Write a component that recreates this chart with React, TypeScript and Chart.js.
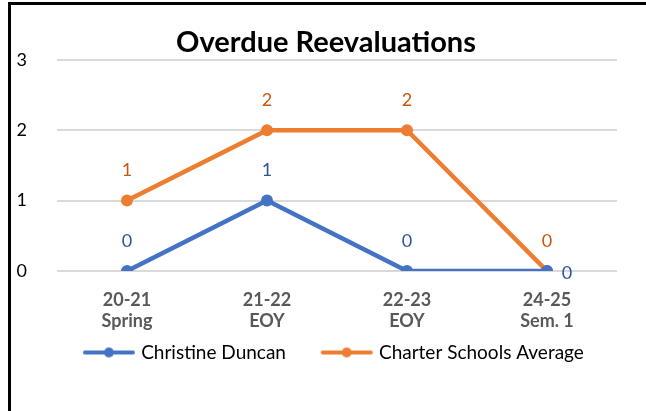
import React, { useEffect, useRef } from "react";
import { Chart, registerables } from "chart.js";

Chart.register(...registerables);

const categories: string[][] = [["20-21", "Spring"], ["21-22", "EOY"], ["22-23", "EOY"], ["24-25", "Sem. 1"]];
const christineDuncan: number[] = [0, 1, 0, 0];
const charterAverage: number[] = [1, 2, 2, 0];
const seriesNames: string[] = ["Christine Duncan", "Charter Schools Average"];
const yTicks: number[] = [0, 1, 2, 3];

const BLUE = "#4472C4";
const BLUE_LABEL = "#2F5597";
const ORANGE = "#ED7D31";
const ORANGE_LABEL = "#C55A11";
const FONT = "Lato, 'Open Sans', sans-serif";

const LEGEND_GAP = 28;
const LEGEND_BOX = LEGEND_GAP + 49.5;

function legendMarker(color: string): HTMLCanvasElement {
  const c = document.createElement("canvas");
  c.width = Math.round(LEGEND_BOX + 10);
  c.height = 12;
  const ctx = c.getContext("2d")!;
  const m = LEGEND_GAP + 5;
  ctx.strokeStyle = color;
  ctx.lineWidth = 4;
  ctx.lineCap = "round";
  ctx.beginPath();
  ctx.moveTo(m + 3, 6);
  ctx.lineTo(m + 51, 6);
  ctx.stroke();
  ctx.fillStyle = color;
  ctx.beginPath();
  ctx.arc(m + 27, 6, 5, 0, Math.PI * 2);
  ctx.fill();
  return c;
}

const labelPlugin = {
  id: "pointLabels",
  afterLayout(chart: any) {
    if (chart.legend) {
      chart.legend.left -= 7;
      chart.legend.right -= 7;
    }
  },
  afterDatasetsDraw(chart: any) {
    const ctx = chart.ctx;
    ctx.save();
    ctx.font = `18px ${FONT}`;
    ctx.textAlign = "center";
    ctx.textBaseline = "middle";
    chart.data.datasets.forEach((ds: any, di: number) => {
      const meta = chart.getDatasetMeta(di);
      meta.data.forEach((pt: any, i: number) => {
        const v = ds.data[i];
        ctx.fillStyle = di === 0 ? BLUE_LABEL : ORANGE_LABEL;
        if (di === 0 && i === ds.data.length - 1) {
          ctx.fillText(String(v), pt.x + 20, pt.y + 2);
        } else {
          ctx.fillText(String(v), pt.x, pt.y - 30);
        }
      });
    });
    ctx.restore();
  },
};

export default function App() {
  const ref = useRef<HTMLCanvasElement>(null);
  useEffect(() => {
    const chart = new Chart(ref.current!, {
      type: "line",
      data: {
        labels: categories,
        datasets: [
          {
            label: seriesNames[0],
            data: christineDuncan,
            borderColor: BLUE,
            backgroundColor: BLUE,
            borderWidth: 4.5,
            pointRadius: 6,
            pointStyle: "circle",
            pointBackgroundColor: BLUE,
            pointBorderWidth: 0,
            tension: 0,
          },
          {
            label: seriesNames[1],
            data: charterAverage,
            borderColor: ORANGE,
            backgroundColor: ORANGE,
            borderWidth: 4.5,
            pointRadius: 6,
            pointStyle: "circle",
            pointBackgroundColor: ORANGE,
            pointBorderWidth: 0,
            tension: 0,
          },
        ],
      },
      options: {
        animation: false,
        responsive: false,
        layout: { padding: { left: 6, right: 16, top: 0, bottom: 39 } },
        plugins: {
          title: {
            display: true,
            text: "Overdue Reevaluations",
            color: "#000",
            font: { family: FONT, size: 29, weight: "bold" },
            padding: { top: 20, bottom: 0 },
          },
          legend: {
            position: "bottom",
            labels: {
              usePointStyle: true,
              pointStyleWidth: LEGEND_BOX,
              boxHeight: 12,
              color: "#000",
              font: { family: FONT, size: 19 },
              padding: 6,
              generateLabels: (chart: any) =>
                chart.data.datasets.map((ds: any, i: number) => ({
                  text: ds.label,
                  pointStyle: legendMarker(i === 0 ? BLUE : ORANGE),
                  fillStyle: ds.borderColor,
                  strokeStyle: ds.borderColor,
                  lineWidth: 0,
                  hidden: false,
                  datasetIndex: i,
                  fontColor: "#000",
                })),
            },
          },
          tooltip: { enabled: false },
        },
        scales: {
          x: {
            offset: true,
            grid: { display: false },
            border: { display: false },
            afterFit: (axis: any) => {
              axis.height = 66;
            },
            ticks: {
              color: "#595959",
              font: { family: FONT, size: 18, weight: "bold" },
              padding: 10,
            },
          },
          y: {
            min: 0,
            max: 3,
            afterBuildTicks: (axis: any) => {
              axis.ticks = yTicks.map((v) => ({ value: v }));
            },
            afterFit: (axis: any) => {
              axis.width = 40;
            },
            grid: { color: "#D9D9D9", lineWidth: 2, drawTicks: false },
            border: { display: false },
            ticks: {
              color: "#000",
              font: { family: FONT, size: 18 },
              padding: 30,
            },
          },
          yRight: {
            position: "right",
            display: true,
            grid: { display: false },
            border: { display: false },
            ticks: { display: false },
            afterFit: (axis: any) => {
              axis.width = 18;
            },
          },
        },
      },
      plugins: [labelPlugin],
    });
    return () => chart.destroy();
  }, []);
  return (
    <div
      style={{
        position: "fixed",
        left: 8,
        top: 2,
        width: 660,
        height: 430,
        borderLeft: "3px solid #000",
        borderTop: "3px solid #000",
        background: "#fff",
      }}
    >
      <canvas ref={ref} width={640} height={406} style={{ display: "block" }} />
    </div>
  );
}
